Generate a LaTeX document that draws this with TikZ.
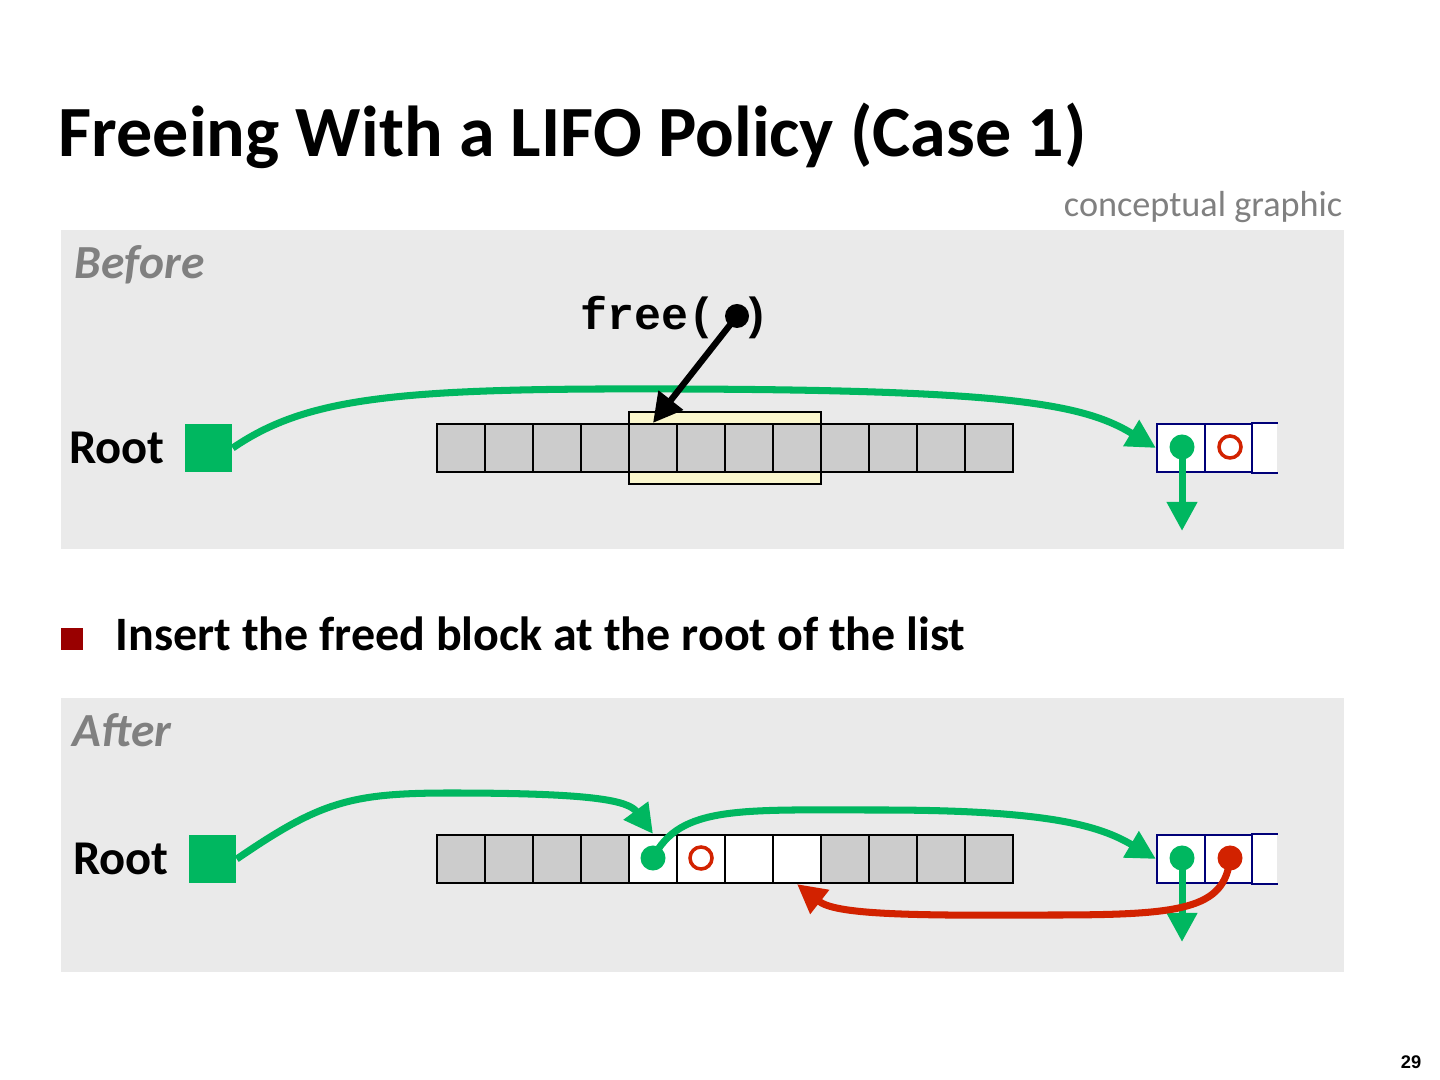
\documentclass[tikz,border=0pt]{standalone}
\usepackage{fontspec}
\setmainfont{Carlito}
\setmonofont{Liberation Mono}
\newfontfamily\pagefont{Liberation Sans}
\usetikzlibrary{arrows.meta, positioning}
\definecolor{panelcolor}{RGB}{234,234,234}
\definecolor{ptrgreen}{RGB}{0,183,96}
\definecolor{ptrred}{RGB}{210,34,0}
\definecolor{cellgray}{RGB}{204,204,204}
\definecolor{freecolor}{RGB}{250,246,205}
\definecolor{listborder}{RGB}{0,0,120}
\definecolor{labelgray}{RGB}{128,128,128}
\definecolor{bulletred}{RGB}{153,0,0}
\tikzset{
    panel/.style={rectangle, fill=panelcolor, anchor=north west, inner sep=0pt,
        minimum width=12.83cm},
    cell/.style={rectangle, draw=black, line width=0.6pt, fill=cellgray,
        minimum size=0.48cm, inner sep=0pt},
    freecell/.style={cell, fill=white},
    listcell/.style={rectangle, draw=listborder, line width=0.6pt, fill=white,
        minimum size=0.48cm, inner sep=0pt},
    rootbox/.style={rectangle, fill=ptrgreen, minimum size=0.47cm, inner sep=0pt},
    rootlabel/.style={inner sep=0pt, font=\fontsize{13.8}{16}\selectfont\bfseries},
    panellabel/.style={inner sep=0pt, anchor=base west, text=labelgray,
        font=\fontsize{13.5}{16}\selectfont\bfseries\itshape},
    gdot/.style={circle, fill=ptrgreen, minimum size=0.25cm, inner sep=0pt},
    rdot/.style={circle, fill=ptrred, minimum size=0.25cm, inner sep=0pt},
    ring/.style={circle, draw=ptrred, line width=1pt, minimum size=0.22cm, inner sep=0pt},
    ptr/.style={line width=2pt, draw=ptrgreen,
        -{Triangle[length=0.29cm, width=0.29cm]}},
    backptr/.style={ptr, draw=ptrred},
    freeptr/.style={line width=1.8pt, draw=black,
        -{Triangle[length=0.29cm, width=0.3cm]}}
}

\begin{document}
\begin{tikzpicture}[x=0.01cm, y=-0.01cm]

    \useasboundingbox[fill=white] (0,0) rectangle (1440,1080);

    \node[inner sep=0pt, anchor=base west, font=\fontsize{20.5}{24}\selectfont\bfseries]
        (title) at (58,157) {Freeing With a LIFO Policy (Case 1)};
    \node[inner sep=0pt, anchor=base east, text=labelgray, font=\fontsize{10.3}{12}\selectfont]
        (concept) at (1343,217) {conceptual graphic};

    % before
    \node[panel, minimum height=3.19cm] (beforepanel) at (60,229) {};
    \node[panellabel] (beforelbl) at (74,279) {Before};

    \node[rectangle, draw=black, line width=0.6pt, fill=freecolor, minimum width=1.92cm,
        minimum height=0.72cm, inner sep=0pt] (freeblk) at (725,448) {};
    \foreach \i in {1,...,12}
        \node[cell] (a\i) at ({413+48*\i},448) {};

    \node[rootbox] (rootA) at (208.5,448) {};
    \node[rootlabel, left=0.19cm of rootA] (rootlblA) {Root};

    \node[listcell] (listA1) at (1181,448) {};
    \node[listcell] (listA2) at (1229,448) {};
    \node[rectangle, fill=white, minimum width=0.24cm, minimum height=0.48cm,
        inner sep=0pt] (listA3) at (1265,448) {};
    \draw[listborder, line width=0.6pt] (listA3.north east) -- (listA3.north west)
        -- (listA3.south west) -- (listA3.south east);
    \node[gdot] (gdotA) at (1182,447) {};
    \node[ring] (ringA) at (1230,447) {};
    \coordinate (nextA) at (1182,531);

    \node[inner sep=0pt, anchor=base west, font=\fontsize{12.8}{15}\selectfont\ttfamily\bfseries]
        (freecall) at (580,330) {free(\phantom{x})};
    \node[circle, fill=black, minimum size=0.24cm, inner sep=0pt] (fdot) at (737,316) {};

    \draw[ptr] (rootA.east) .. controls (300,402) and (380,390) .. (600,389)
        .. controls (1000,388) and (1080,402) .. (listA1.west);
    \draw[freeptr] (fdot.center) -- (a5.north);
    \draw[ptr] (gdotA.center) -- (nextA);

    % bullet
    \node[rectangle, fill=bulletred, minimum size=0.21cm, inner sep=0pt] (bullet) at (72,639) {};
    \node[inner sep=0pt, anchor=base west, font=\fontsize{13.65}{16}\selectfont\bfseries]
        (insert) at (115,651) {Insert the freed block at the root of the list};

    % after
    \node[panel, minimum height=2.74cm] (afterpanel) at (60,697) {};
    \node[panellabel] (afterlbl) at (72,747) {After};

    \foreach \i in {1,...,4,9,10,11,12}
        \node[cell] (b\i) at ({413+48*\i},859) {};
    \foreach \i in {5,...,8}
        \node[freecell] (b\i) at ({413+48*\i},859) {};

    \node[rootbox] (rootB) at (212.5,859) {};
    \node[rootlabel, left=0.19cm of rootB] (rootlblB) {Root};

    \node[listcell] (listB1) at (1181,859) {};
    \node[listcell] (listB2) at (1229,859) {};
    \node[rectangle, fill=white, minimum width=0.24cm, minimum height=0.48cm,
        inner sep=0pt] (listB3) at (1265,859) {};
    \draw[listborder, line width=0.6pt] (listB3.north east) -- (listB3.north west)
        -- (listB3.south west) -- (listB3.south east);
    \node[gdot] (gdotB) at (1182,858) {};
    \node[rdot] (rdotB) at (1230,858) {};
    \node[gdot] (gdotF) at (653,858) {};
    \node[ring] (ringF) at (701,858) {};
    \coordinate (nextB) at (1182,942);

    \draw[ptr] (rootB.east) .. controls (320,802) and (350,793) .. (450,793)
        .. controls (590,793) and (628,800) .. (b5.north);
    \draw[ptr] (gdotF.center) .. controls (680,805) and (740,810) .. (880,810)
        .. controls (1050,810) and (1100,826) .. (listB1.west);
    \draw[ptr] (gdotB.center) -- (nextB);
    \draw[backptr] (rdotB.center) .. controls (1225,910) and (1180,915) .. (1050,915)
        .. controls (900,916) and (835,914) .. (b8.south);

    \node[inner sep=0pt, anchor=base east, font=\pagefont\fontsize{5.2}{6}\selectfont\bfseries]
        (pagenum) at (1422,1068) {29};

\end{tikzpicture}
\end{document}
